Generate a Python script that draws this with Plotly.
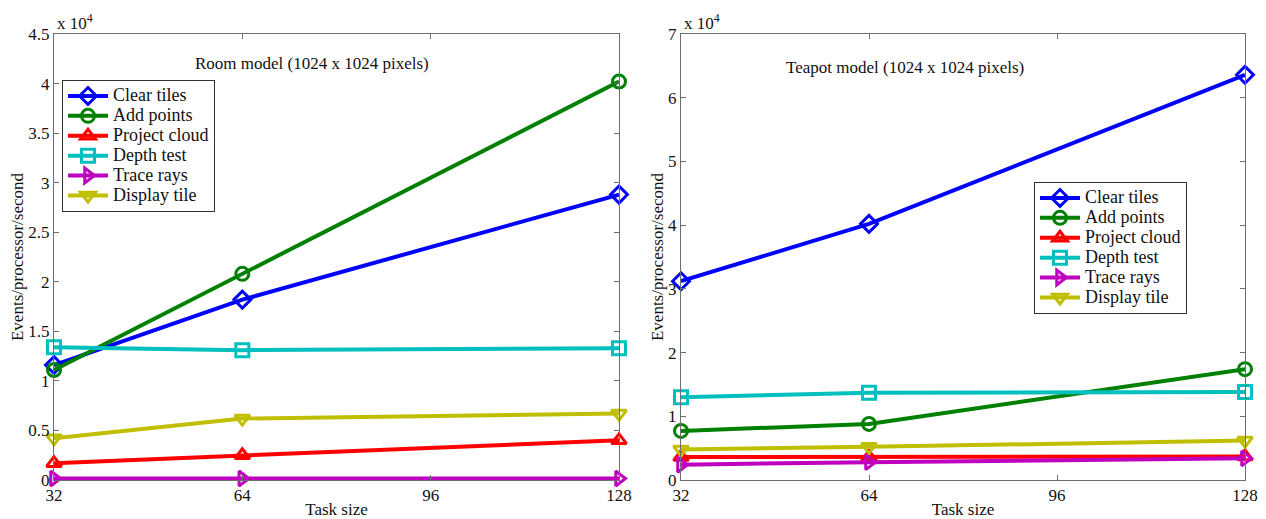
import plotly.graph_objects as go

# Task sizes on the x axis
task_size = [32, 64, 128]
x_ticks = [32, 64, 96, 128]

series_names = ["Clear tiles", "Add points", "Project cloud", "Depth test", "Trace rays", "Display tile"]

# Room model, events/processor/second
room_clear_tiles = [11600, 18200, 28800]
room_add_points = [11100, 20800, 40200]
room_project_cloud = [1700, 2500, 4000]
room_depth_test = [13400, 13100, 13300]
room_trace_rays = [150, 150, 150]
room_display_tile = [4200, 6200, 6700]

# Teapot model, events/processor/second
teapot_clear_tiles = [31200, 40200, 63600]
teapot_add_points = [7700, 8800, 17400]
teapot_project_cloud = [3600, 3600, 3700]
teapot_depth_test = [13000, 13700, 13800]
teapot_trace_rays = [2400, 2800, 3400]
teapot_display_tile = [4800, 5200, 6200]

room_values = [room_clear_tiles, room_add_points, room_project_cloud,
               room_depth_test, room_trace_rays, room_display_tile]
teapot_values = [teapot_clear_tiles, teapot_add_points, teapot_project_cloud,
                 teapot_depth_test, teapot_trace_rays, teapot_display_tile]

colors = ["#0000ff", "#008000", "#ff0000", "#00bfbf", "#bf00bf", "#bfbf00"]
symbols = ["diamond-open", "circle-open", "triangle-up-open", "square-open",
           "triangle-right-open", "triangle-down-open"]

W, H = 1266, 519
FONT = "Liberation Serif, DejaVu Serif, Times New Roman, serif"
TEXT = "#111111"


def fx(px):
    return px / W


def fy(py):
    return (H - py) / H


fig = go.Figure()

panels = [
    ("x", "y", "legend", room_values),
    ("x2", "y2", "legend2", teapot_values),
]
for xa, ya, leg, values in panels:
    for name, vals, col, sym in zip(series_names, values, colors, symbols):
        fig.add_trace(go.Scatter(
            x=task_size, y=vals, xaxis=xa, yaxis=ya, legend=leg,
            # larger label text inside a compact legend row
            name=f'<span style="font-size:18px">{name}</span>',
            mode="lines+markers", cliponaxis=False,
            line=dict(color=col, width=4),
            marker=dict(symbol=sym, size=13, color=col,
                        line=dict(color=col, width=3)),
        ))

axis_common = dict(
    showline=True, linecolor="#6e6e6e", linewidth=1, mirror="ticks",
    ticks="inside", ticklen=5, tickcolor="#6e6e6e", showgrid=False,
    zeroline=False, automargin=False,
    tickfont=dict(family=FONT, size=17, color=TEXT),
)

room_y_ticks = [0, 5000, 10000, 15000, 20000, 25000, 30000, 35000, 40000, 45000]
room_y_labels = ["0", "0.5", "1", "1.5", "2", "2.5", "3", "3.5", "4", "4.5"]
teapot_y_ticks = [0, 10000, 20000, 30000, 40000, 50000, 60000, 70000]
teapot_y_labels = ["0", "1", "2", "3", "4", "5", "6", "7"]

title_font = dict(family=FONT, size=17, color=TEXT)

legend_common = dict(
    xanchor="left", yanchor="top", bgcolor="white", bordercolor="#333",
    borderwidth=1, font=dict(family=FONT, size=13, color=TEXT),
    tracegroupgap=0, itemwidth=40,
)

fig.update_layout(
    width=W, height=H, margin=dict(l=0, r=0, t=0, b=0),
    paper_bgcolor="white", plot_bgcolor="white",
    font=dict(family=FONT, color=TEXT),
    xaxis=dict(domain=[fx(54), fx(619)], range=[32, 128], tickvals=x_ticks,
               anchor="y", title=dict(text="Task size", font=title_font, standoff=3),
               **axis_common),
    yaxis=dict(domain=[fy(480), fy(34)], range=[0, 45000], tickvals=room_y_ticks,
               ticktext=room_y_labels, anchor="x",
               title=dict(text="Events/processor/second", font=title_font, standoff=0),
               **axis_common),
    xaxis2=dict(domain=[fx(681), fx(1245)], range=[32, 128], tickvals=x_ticks,
                anchor="y2", title=dict(text="Task size", font=title_font, standoff=3),
                **axis_common),
    yaxis2=dict(domain=[fy(480), fy(34)], range=[0, 70000], tickvals=teapot_y_ticks,
                ticktext=teapot_y_labels, anchor="x2",
                title=dict(text="Events/processor/second", font=title_font, standoff=0),
                **axis_common),
    legend=dict(x=fx(62), y=fy(80), **legend_common),
    legend2=dict(x=fx(1034), y=fy(182), **legend_common),
    showlegend=True,
)

annotations = [
    dict(text="Room model (1024 x 1024 pixels)", x=fx(312), y=fy(63), xanchor="center"),
    dict(text="Teapot model (1024 x 1024 pixels)", x=fx(905), y=fy(68), xanchor="center"),
    dict(text="x 10<sup>4</sup>", x=fx(55), y=fy(22), xanchor="left"),
    dict(text="x 10<sup>4</sup>", x=fx(682), y=fy(22), xanchor="left"),
]
for a in annotations:
    fig.add_annotation(xref="paper", yref="paper", showarrow=False,
                       yanchor="middle", font=dict(family=FONT, size=17, color=TEXT), **a)

fig.write_html("out.html")
